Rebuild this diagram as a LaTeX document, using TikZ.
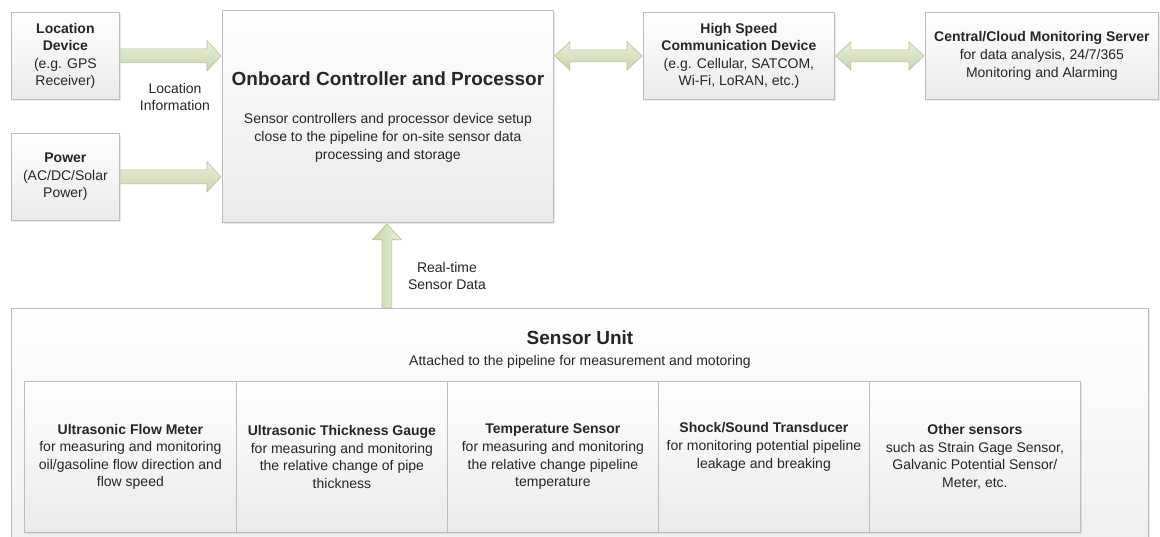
\documentclass[tikz,border=0pt]{standalone}
\usepackage{fontspec}
\setmainfont{Liberation Sans}
\usetikzlibrary{calc,shadows}
\definecolor{boxline}{HTML}{BDBDBD}
\definecolor{arrowline}{HTML}{B5C097}
\definecolor{arrowtop}{HTML}{EAEFDC}
\definecolor{arrowbot}{HTML}{CAD5AB}
\definecolor{txt}{HTML}{262626}
\tikzset{
  box/.style={draw=boxline, line width=0.8pt, top color=white, bottom color=black!8,
    align=center, inner sep=2pt, font=\fontsize{14}{17.6}\selectfont, text=txt,
    drop shadow={shadow xshift=1.2pt, shadow yshift=-1.2pt, opacity=0.18}},
  plainbox/.style={draw=boxline, line width=0.8pt, top color=white, bottom color=black!6,
    drop shadow={shadow xshift=1.2pt, shadow yshift=-1.2pt, opacity=0.18}},
  lbl/.style={align=center, font=\fontsize{14}{17.6}\selectfont, text=txt},
  blockarrow/.style={draw=arrowline, line width=0.6pt, top color=arrowtop, bottom color=arrowbot},
  vblockarrow/.style={draw=arrowline, line width=0.6pt, left color=arrowbot, right color=arrowtop},
}
\newcommand\rarrow[2]{\path[blockarrow] let \p1=(#1), \p2=(#2) in
  ({\x1},{\y1+7pt}) -- ({\x2-14pt},{\y1+7pt}) -- ({\x2-14pt},{\y1+15pt}) -- ({\x2},{\y1})
  -- ({\x2-14pt},{\y1-15pt}) -- ({\x2-14pt},{\y1-7pt}) -- ({\x1},{\y1-7pt}) -- cycle;}
\newcommand\lrarrow[2]{\path[blockarrow] let \p1=(#1), \p2=(#2) in
  ({\x1},{\y1}) -- ({\x1+15pt},{\y1+14pt}) -- ({\x1+15pt},{\y1+6pt}) -- ({\x2-15pt},{\y1+6pt})
  -- ({\x2-15pt},{\y1+14pt}) -- ({\x2},{\y1}) -- ({\x2-15pt},{\y1-14pt}) -- ({\x2-15pt},{\y1-6pt})
  -- ({\x1+15pt},{\y1-6pt}) -- ({\x1+15pt},{\y1-14pt}) -- cycle;}
\newcommand\uarrow[2]{\path[vblockarrow] let \p1=(#1), \p2=(#2) in
  ({\x1-5pt},{\y1}) -- ({\x1-5pt},{\y2-16pt}) -- ({\x1-14.5pt},{\y2-16pt}) -- ({\x2},{\y2})
  -- ({\x1+14.5pt},{\y2-16pt}) -- ({\x1+5pt},{\y2-16pt}) -- ({\x1+5pt},{\y1}) -- cycle;}
\begin{document}
\begin{tikzpicture}[x=1pt,y=-1pt]
\useasboundingbox[fill=white] (0,0) rectangle (1160,537);

% top row
\node[box, anchor=north west, minimum width=108, minimum height=87] (loc) at (11,12)
  {\textbf{Location}\\\textbf{Device}\\(e.g. GPS\\Receiver)};
\node[box, anchor=north west, minimum width=108, minimum height=87] (pow) at (11,133)
  {\textbf{Power}\\(AC/DC/Solar\\Power)};
\node[box, anchor=north west, minimum width=331, minimum height=212] (onb) at (222,10) {};
\node[lbl, anchor=north] (onbt) at ([yshift=-58]onb.north)
  {{\fontsize{19}{22}\selectfont\bfseries Onboard Controller and Processor}\\[21pt]
   Sensor controllers and processor device setup\\close to the pipeline for on-site sensor data\\processing and storage};
\node[box, anchor=north west, minimum width=191, minimum height=87] (hs) at (643,12)
  {\textbf{High Speed}\\\textbf{Communication Device}\\(e.g. Cellular, SATCOM,\\Wi-Fi, LoRAN, etc.)};
\node[box, anchor=north west, minimum width=233, minimum height=87] (cen) at (925,12)
  {\textbf{Central/Cloud Monitoring Server}\\for data analysis, 24/7/365\\Monitoring and Alarming};

\node[lbl] (locinfo) at (175,97) {Location\\Information};

% sensor unit
\node[plainbox, anchor=north west, minimum width=1137, minimum height=240] (su) at (11,308) {};
\node[lbl, anchor=north] (sut) at (580,327)
  {{\fontsize{19}{22}\selectfont\bfseries Sensor Unit}\\[4pt]Attached to the pipeline for measurement and motoring};

\node[box, anchor=north west, minimum width=212, minimum height=151, drop shadow={opacity=0}] (s1) at (24,381)
  {\textbf{Ultrasonic Flow Meter}\\for measuring and monitoring\\oil/gasoline flow direction and\\flow speed};
\node[box, anchor=north west, minimum width=211, minimum height=151, drop shadow={opacity=0}] (s2) at (236,381)
  {\textbf{Ultrasonic Thickness Gauge}\\for measuring and monitoring\\the relative change of pipe\\thickness};
\node[box, anchor=north west, minimum width=211, minimum height=151, drop shadow={opacity=0}] (s3) at (447,381)
  {\textbf{Temperature Sensor}\\for measuring and monitoring\\the relative change pipeline\\temperature};
\node[box, anchor=north west, minimum width=211, minimum height=151, drop shadow={opacity=0}] (s4) at (658,381)
  {\textbf{Shock/Sound Transducer}\\for monitoring potential pipeline\\leakage and breaking\\\strut\vphantom{g}};
\node[box, anchor=north west, minimum width=211, minimum height=151, drop shadow={opacity=0}] (s5) at (869,381)
  {\textbf{Other sensors}\\such as Strain Gage Sensor,\\Galvanic Potential Sensor/\\Meter, etc.};

\node[lbl] (rt) at (447,276) {Real-time\\Sensor Data};

% connectors
\rarrow{$(loc.east)+(1,0)$}{$(onb.west|-loc.east)+(-1,0)$}
\rarrow{$(pow.east)+(1,0)$}{$(onb.west|-pow.east)+(-1,0)$}
\lrarrow{$(onb.east|-hs.west)+(1,0)$}{$(hs.west)+(-1,0)$}
\lrarrow{$(hs.east)+(1,0)$}{$(cen.west)+(-1,0)$}
\uarrow{$(su.north-|onb.south)+(-1,0)$}{$(onb.south)+(-1,1)$}
\end{tikzpicture}
\end{document}
